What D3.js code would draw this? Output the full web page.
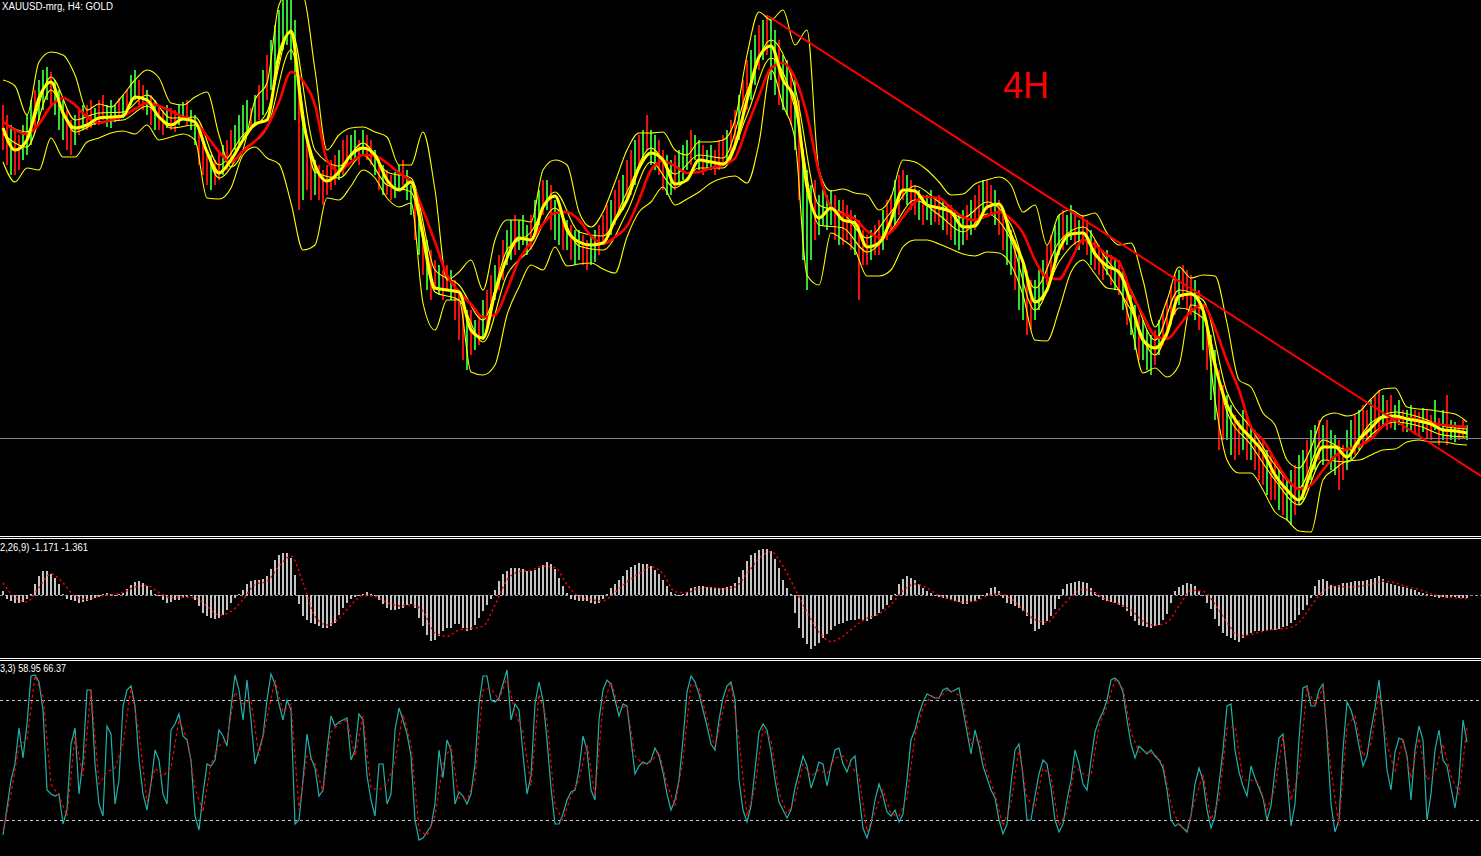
<!DOCTYPE html>
<html><head><meta charset="utf-8">
<script src="https://cdn.jsdelivr.net/npm/d3@7"></script>
<style>html,body{margin:0;padding:0;background:#000;overflow:hidden}svg{display:block}</style>
</head><body><svg id="c" width="1481" height="856"></svg>
<script>
// ---------- DATA (XAUUSD H4) ----------
const barHigh = [
1289.5,1288.5,1287.5,1287.0,1286.5,1287.5,1288.5,1290.0,1291.0,1292.0,1293.0,1293.3,1292.8,1292.0,1291.0,
1290.0,1289.0,1288.0,1288.5,1289.0,1289.5,1289.5,1290.0,1289.2,1290.0,1290.5,1289.5,1290.0,1289.5,1290.2,
1290.5,1291.0,1292.5,1293.0,1292.0,1291.5,1291.0,1290.5,1290.0,1289.5,1289.0,1289.5,1289.2,1289.0,1289.5,
1289.8,1290.0,1289.0,1288.5,1287.0,1286.0,1285.0,1284.5,1284.0,1285.0,1285.5,1286.0,1287.0,1287.5,1288.5,
1289.5,1290.0,1289.2,1290.5,1291.5,1293.0,1294.5,1296.0,1297.5,1299.0,1300.4,1300.6,1300.3,1298.0,1291.0,
1288.0,1286.0,1285.0,1284.0,1283.5,1283.0,1283.5,1284.0,1284.5,1285.0,1286.0,1286.5,1286.5,1287.0,1286.0,
1287.0,1286.5,1286.0,1285.0,1284.0,1283.5,1283.0,1282.5,1282.8,1283.5,1284.0,1283.0,1281.5,1280.5,1279.0,
1277.5,1276.0,1275.0,1274.0,1273.5,1273.0,1273.5,1273.0,1272.0,1271.0,1270.0,1269.0,1269.0,1268.0,1268.5,
1270.0,1271.0,1272.5,1273.5,1274.5,1276.0,1277.0,1278.0,1278.5,1278.0,1278.5,1277.5,1278.5,1280.0,1281.0,
1282.0,1282.0,1281.5,1280.0,1279.0,1278.5,1278.0,1277.5,1277.0,1277.0,1276.5,1276.0,1276.5,1277.0,1277.5,
1278.5,1279.5,1280.0,1281.0,1282.0,1282.5,1284.0,1285.0,1286.0,1286.5,1287.0,1288.5,1287.0,1286.5,1286.0,
1285.0,1284.5,1284.0,1284.5,1285.0,1285.5,1286.0,1287.0,1286.5,1286.0,1285.5,1285.0,1285.5,1285.0,1286.0,
1286.5,1287.0,1288.0,1289.0,1290.5,1292.0,1294.0,1295.0,1296.5,1297.5,1298.0,1298.5,1298.0,1297.0,1296.0,
1294.5,1294.0,1293.0,1292.0,1290.0,1285.0,1283.0,1281.5,1282.0,1280.5,1281.0,1280.5,1281.0,1280.5,1280.0,
1280.0,1279.5,1279.0,1278.5,1278.0,1277.0,1276.5,1277.0,1277.5,1278.0,1279.0,1280.0,1280.5,1282.0,1282.5,
1283.0,1282.5,1282.0,1281.5,1281.0,1280.5,1280.5,1281.0,1280.2,1280.5,1280.0,1279.5,1279.5,1279.0,1278.5,
1279.0,1279.5,1280.0,1280.5,1281.5,1282.0,1282.0,1281.5,1281.0,1280.0,1279.0,1278.0,1277.0,1276.0,1275.0,
1274.0,1273.0,1272.0,1272.0,1273.0,1274.0,1275.5,1276.5,1277.5,1278.5,1279.0,1278.5,1279.5,1278.5,1278.0,
1278.5,1278.0,1277.0,1276.0,1275.5,1275.0,1275.0,1274.5,1274.0,1274.0,1273.0,1272.0,1270.5,1269.5,1268.5,
1268.0,1267.0,1266.5,1267.0,1268.0,1269.0,1270.0,1271.5,1272.5,1273.0,1273.5,1273.0,1272.5,1272.0,1271.0,
1269.5,1268.0,1266.5,1265.0,1263.0,1261.5,1260.5,1259.5,1258.5,1258.0,1259.0,1258.5,1257.5,1257.0,1256.0,
1256.0,1255.0,1254.5,1254.0,1253.0,1252.5,1252.0,1253.0,1253.5,1254.5,1255.0,1256.0,1257.0,1257.5,1258.0,
1257.5,1258.0,1257.0,1256.5,1256.0,1255.5,1257.0,1258.0,1258.5,1259.0,1259.5,1259.0,1260.0,1260.5,1261.0,
1260.5,1260.0,1260.5,1259.5,1260.0,1259.0,1259.0,1259.5,1259.0,1258.8,1259.2,1259.0,1258.5,1260.0,1258.2,
1259.0,1260.5,1258.0,1257.8,1257.5,1258.0,1257.5];
const barLow = [
1285.0,1283.5,1282.5,1282.5,1283.0,1284.0,1284.5,1285.5,1287.0,1288.0,1289.0,1290.0,1289.5,1288.5,1287.0,
1286.0,1285.0,1284.5,1285.5,1286.5,1287.0,1287.0,1287.2,1287.5,1287.5,1288.0,1287.3,1287.2,1287.8,1288.0,
1288.2,1288.5,1289.5,1290.0,1289.5,1289.0,1288.5,1287.5,1287.0,1287.0,1286.5,1287.2,1287.0,1286.8,1287.5,
1288.0,1287.5,1287.0,1285.5,1283.5,1282.5,1281.5,1281.0,1281.5,1282.0,1282.5,1283.0,1284.0,1285.0,1285.5,
1286.0,1286.5,1287.0,1287.5,1288.0,1288.5,1290.0,1291.0,1292.0,1294.0,1295.0,1295.5,1294.0,1288.0,1279.0,
1280.0,1281.0,1280.0,1280.5,1280.0,1279.5,1280.5,1281.0,1281.5,1282.0,1282.5,1283.5,1284.0,1284.0,1283.5,
1284.5,1284.0,1283.5,1282.5,1281.0,1280.5,1280.5,1280.0,1280.2,1281.0,1281.5,1280.0,1278.5,1276.0,1274.5,
1272.5,1271.0,1270.0,1271.0,1270.5,1270.0,1271.0,1270.0,1268.0,1266.0,1264.0,1263.0,1264.5,1265.0,1265.5,
1266.0,1267.0,1268.5,1270.0,1271.0,1272.0,1273.5,1274.0,1274.5,1275.0,1275.5,1274.5,1275.0,1276.5,1277.5,
1278.5,1279.0,1277.0,1276.0,1275.5,1275.0,1275.0,1274.0,1273.5,1274.0,1273.5,1273.0,1273.5,1273.8,1274.5,
1275.5,1276.0,1276.5,1277.5,1278.5,1279.0,1280.0,1280.5,1281.5,1283.0,1284.0,1285.0,1283.5,1283.0,1282.5,
1281.0,1280.5,1280.5,1281.0,1281.5,1282.0,1283.0,1283.5,1284.0,1283.0,1282.5,1283.0,1283.0,1282.5,1283.0,
1283.5,1284.0,1284.5,1285.0,1286.0,1287.5,1289.0,1290.0,1291.5,1293.0,1294.0,1294.5,1292.0,1290.5,1289.5,
1289.0,1288.5,1287.5,1285.0,1280.0,1274.0,1271.0,1274.0,1276.0,1276.5,1277.5,1277.0,1277.5,1276.0,1275.5,
1275.5,1276.0,1275.0,1274.5,1270.0,1273.5,1273.5,1274.0,1274.5,1274.5,1275.0,1276.0,1277.0,1277.5,1278.5,
1280.0,1279.5,1279.0,1278.5,1278.0,1277.5,1278.0,1277.5,1277.8,1277.5,1277.0,1276.5,1276.0,1275.5,1275.0,
1275.5,1276.0,1276.5,1277.0,1278.0,1278.5,1279.0,1278.5,1277.5,1276.5,1275.0,1273.5,1272.5,1271.0,1269.0,
1268.0,1266.5,1267.0,1268.0,1269.0,1270.0,1271.5,1272.5,1273.5,1274.5,1275.0,1275.5,1276.0,1275.5,1275.0,
1275.5,1274.5,1273.5,1273.0,1272.5,1272.0,1272.5,1271.5,1271.0,1270.5,1269.0,1267.5,1266.5,1265.0,1264.0,
1264.0,1263.0,1262.5,1263.5,1264.5,1265.5,1266.0,1267.5,1268.5,1269.5,1270.0,1269.0,1268.5,1268.0,1267.0,
1265.0,1263.0,1260.0,1258.0,1255.0,1256.0,1256.0,1254.5,1254.0,1254.5,1255.0,1254.0,1254.0,1253.0,1252.0,
1251.5,1250.5,1250.0,1250.0,1249.0,1248.5,1248.0,1247.5,1248.5,1249.5,1250.0,1251.0,1252.0,1253.0,1254.0,
1253.5,1254.0,1253.0,1252.5,1251.0,1252.0,1253.0,1254.0,1254.5,1255.0,1255.5,1256.0,1256.0,1256.5,1257.0,
1257.5,1257.0,1257.2,1257.0,1257.5,1256.8,1256.8,1257.0,1256.5,1256.5,1256.8,1256.2,1256.0,1257.0,1255.5,
1256.0,1255.5,1256.0,1255.8,1256.0,1256.2,1256.0];
// u = up bar (green), d = down bar (red)
const barDir = ["ddudduuudu","uuduuuddud","uddudduuud","uduuddudud","dudduuduud","dduddudduu","uudududuuu",
"uuuududdud","ddddudduud","uddududduu","duudududdu","ddudddudud","uddudduudu","uuduududuu","duduudduud",
"ddudduddud","uduudduudu","uuduuduudd","duddudduud","uduuduudud","uuuduuuudu","dddudddudd","uddudduddu",
"duuddudduu","ududduddud","duuduudduu","udduuduudu","ddudddudud","uduuduuudu","ddddudddud","uduudduudd",
"ududdduddu","duuduuduud","uduudduudu","dduddudduu","duudduddud","uduudduddu"].join("");

// moving averages and bands: one value every 3 bars
const fastMA = [1287.2,1285.0,1286.0,1290.2,1291.8,1288.7,1287.2,1287.5,1288.2,1288.3,
1288.4,1290.3,1290.0,1288.3,1287.5,1288.1,1287.8,1284.8,1282.7,1284.0,
1286.0,1287.6,1288.0,1294.5,1296.8,1288.0,1283.5,1281.9,1282.8,1284.5,
1285.2,1284.5,1282.0,1281.0,1281.8,1276.5,1271.2,1271.0,1270.8,1267.0,
1266.2,1270.7,1274.2,1276.2,1276.0,1279.3,1280.4,1277.0,1275.8,1275.5,
1275.7,1278.0,1280.0,1283.2,1284.7,1284.0,1281.6,1282.0,1284.0,1283.8,
1283.6,1285.5,1290.0,1294.3,1295.4,1292.0,1290.0,1281.3,1278.2,1279.2,
1278.0,1277.7,1275.3,1275.7,1278.0,1281.0,1280.9,1279.5,1279.2,1278.8,
1277.3,1277.4,1279.3,1279.6,1276.5,1273.8,1269.8,1271.0,1275.0,1276.6,
1276.7,1274.6,1273.4,1272.8,1269.7,1266.0,1265.2,1266.7,1270.4,1270.6,
1269.0,1263.5,1259.5,1257.5,1256.2,1254.8,1252.5,1251.0,1250.0,1252.8,
1255.3,1255.3,1254.3,1256.0,1257.2,1258.3,1258.4,1258.1,1257.9,1257.6,
1257.0,1256.9,1256.7];
const slowMA = [1287.8,1287.0,1286.6,1287.6,1289.4,1290.2,1289.5,1288.3,1287.7,1288.0,
1288.4,1289.1,1289.7,1289.4,1288.9,1288.3,1287.8,1286.4,1284.8,1283.8,
1284.9,1285.9,1287.3,1289.8,1292.8,1291.9,1289.5,1284.0,1282.9,1283.8,
1284.5,1284.4,1283.7,1282.7,1281.8,1279.0,1275.8,1272.5,1270.8,1269.6,
1268.3,1268.5,1271.0,1274.0,1275.8,1277.6,1278.7,1278.8,1278.0,1276.4,
1275.6,1276.3,1277.4,1280.0,1283.0,1283.9,1283.4,1282.7,1282.8,1283.2,
1283.5,1284.2,1287.3,1290.4,1293.2,1293.7,1292.2,1288.5,1282.8,1279.3,
1278.6,1278.1,1276.9,1276.3,1276.8,1278.3,1279.8,1280.3,1280.2,1279.2,
1278.3,1278.0,1278.4,1278.8,1278.1,1276.7,1274.0,1272.2,1272.1,1274.0,
1276.0,1275.5,1274.5,1273.8,1270.8,1268.5,1266.4,1266.1,1267.4,1268.9,
1269.5,1267.2,1263.9,1261.0,1257.3,1256.0,1254.0,1252.1,1251.1,1251.5,
1253.0,1254.4,1255.1,1255.4,1256.1,1257.4,1258.1,1258.2,1258.0,1257.7,
1257.5,1257.4,1257.3];
const upperBand = [1292.0,1291.4,1288.5,1293.8,1294.8,1294.5,1292.5,1289.0,1289.6,1289.3,
1290.5,1292.0,1293.0,1292.2,1289.7,1289.5,1290.3,1290.8,1286.5,1283.3,
1285.0,1290.0,1291.7,1299.5,1301.0,1300.5,1293.0,1285.0,1286.5,1287.2,
1287.3,1286.8,1286.3,1283.5,1283.5,1286.8,1281.0,1272.0,1272.8,1274.0,
1271.0,1276.0,1278.0,1278.0,1277.8,1283.0,1284.0,1283.5,1278.8,1277.3,
1278.8,1281.8,1285.0,1286.7,1286.7,1286.8,1285.0,1284.5,1285.8,1285.8,
1286.0,1288.0,1294.5,1298.8,1298.0,1299.0,1295.5,1297.0,1283.0,1280.9,
1281.1,1280.7,1280.5,1279.0,1280.3,1284.0,1283.8,1283.0,1281.8,1280.5,
1280.6,1281.6,1282.0,1282.3,1281.5,1278.8,1279.5,1275.5,1278.5,1279.0,
1278.4,1278.7,1276.7,1275.5,1275.7,1272.0,1267.3,1270.0,1273.3,1272.2,
1272.5,1272.4,1267.7,1262.0,1261.3,1258.7,1257.5,1254.0,1253.2,1255.2,
1258.3,1258.7,1258.4,1258.8,1260.1,1261.1,1261.2,1259.3,1259.1,1259.0,
1258.8,1258.6,1257.8];
const lowerBand = [1283.8,1281.8,1283.2,1283.0,1286.2,1284.3,1284.3,1285.8,1286.2,1286.7,
1286.9,1286.6,1287.5,1286.0,1286.3,1286.6,1286.0,1280.2,1280.1,1281.2,
1284.5,1285.3,1284.2,1283.6,1279.7,1275.0,1275.5,1280.2,1280.0,1281.4,
1283.0,1282.2,1280.2,1279.3,1279.7,1269.7,1267.0,1270.0,1270.0,1262.8,
1262.5,1263.5,1268.5,1271.3,1273.5,1273.0,1275.3,1273.4,1273.6,1273.7,
1273.1,1272.7,1276.3,1278.8,1279.8,1281.3,1279.5,1280.1,1280.8,1281.7,
1282.2,1282.4,1281.7,1285.7,1293.0,1289.5,1286.0,1272.5,1271.5,1276.7,
1276.0,1275.0,1272.4,1272.4,1273.0,1275.3,1276.0,1276.0,1275.6,1275.1,
1274.6,1274.4,1274.8,1274.7,1273.5,1270.5,1266.0,1265.9,1269.0,1272.8,
1274.0,1272.6,1271.2,1271.0,1267.5,1262.7,1263.2,1262.3,1263.5,1269.5,
1269.0,1260.0,1254.0,1252.7,1252.7,1251.0,1248.8,1248.0,1246.9,1246.8,
1252.0,1253.1,1253.9,1254.0,1254.5,1255.0,1255.1,1255.8,1256.0,1255.8,
1255.8,1255.6,1255.5];
// high / low channel of the fast average: one value every 6 bars
const channelHigh = [1287.8,1286.8,1292.3,1288.0,1288.7,1288.8,1290.5,1288.2,1288.3,1283.5,
1286.5,1288.8,1297.0,1285.0,1283.4,1285.7,1282.8,1282.2,1273.0,1271.5,
1268.0,1275.0,1276.8,1280.8,1276.8,1276.4,1280.8,1285.2,1282.6,1284.5,
1284.2,1290.8,1296.0,1291.2,1279.5,1278.7,1276.2,1278.8,1281.4,1279.8,
1278.2,1279.8,1277.5,1271.2,1275.8,1277.3,1274.0,1271.0,1266.0,1271.0,
1270.0,1260.8,1257.2,1253.5,1251.2,1256.0,1255.0,1257.7,1258.8,1258.3,
1257.4,1257.1];
const channelLow = [1286.6,1285.3,1291.0,1286.8,1287.8,1288.0,1289.4,1287.2,1287.5,1282.2,
1285.0,1287.2,1295.0,1282.8,1282.2,1284.5,1281.5,1280.8,1270.8,1270.0,
1265.8,1272.5,1275.2,1279.2,1275.4,1275.0,1278.8,1283.8,1281.2,1283.2,
1283.2,1288.5,1294.2,1289.2,1277.5,1277.2,1274.8,1277.0,1280.0,1278.5,
1276.8,1278.6,1276.0,1269.0,1273.8,1276.0,1272.8,1269.0,1264.5,1269.2,
1268.2,1258.8,1255.5,1252.0,1249.5,1254.0,1253.8,1256.5,1257.8,1257.4,
1256.5,1256.3];
const lastPrice = 1256.2;
const trendLine = [[191.25, 1298.4], [369.5, 1252.4]]; // [bar index, price]

// MACD(12,26,9): histogram per bar, signal every 3 bars
const macdHist = [1.5,-1.5,-2.5,-3.0,-3.0,-2.8,-1.5,0.5,4.5,7.5,
9.5,9.6,8.5,6.8,4.5,0.5,-1.5,-2.0,-2.5,-3.0,
-2.8,-2.2,-1.8,-1.2,-0.8,0.3,1.0,0.6,-0.2,0.4,
1.0,2.5,4.0,5.2,5.6,5.0,3.8,2.0,0.5,-0.5,
-2.0,-3.0,-2.6,-2.0,-1.8,-1.0,-0.8,-0.5,-2.0,-4.5,
-7.0,-8.5,-9.3,-9.5,-9.0,-8.0,-6.0,-3.0,-1.0,0.5,
2.0,4.5,5.5,6.0,6.2,6.5,7.5,10.5,14.0,16.0,
17.0,17.0,15.0,8.0,-3.5,-8.5,-10.0,-11.0,-11.5,-12.5,
-13.0,-13.0,-12.5,-11.0,-8.0,-5.0,-3.0,-1.5,-0.8,-0.3,
0.5,1.1,0.5,-0.5,-2.0,-3.5,-5.0,-5.8,-5.9,-5.5,
-5.0,-4.0,-3.5,-5.0,-9.0,-12.5,-16.0,-18.5,-18.0,-16.5,
-14.5,-13.0,-13.0,-11.5,-11.5,-13.0,-14.5,-14.0,-12.0,-9.0,
-6.5,-4.0,-1.5,2.0,5.5,8.3,9.8,10.7,10.8,10.7,
10.5,9.7,9.5,10.0,10.8,12.0,13.2,12.5,10.5,7.0,
3.5,0.8,-1.5,-2.0,-2.5,-2.2,-2.5,-3.0,-3.7,-3.2,
-1.5,0.5,3.0,4.5,6.0,7.5,10.0,11.2,12.0,12.7,
12.5,12.3,11.5,10.0,8.5,6.0,3.5,1.2,0.3,-0.3,
0.3,1.2,3.0,3.3,3.5,3.6,3.4,3.2,3.0,2.9,
3.0,3.3,3.5,5.0,7.2,10.0,13.5,16.0,17.0,18.0,
18.5,18.5,17.6,14.5,11.0,6.0,3.0,0.5,-7.0,-13.0,
-17.0,-19.5,-21.5,-20.5,-19.0,-17.0,-15.5,-14.0,-12.5,-11.5,
-11.0,-10.3,-10.0,-9.8,-9.7,-10.0,-10.3,-9.5,-8.5,-7.0,
-5.5,-4.0,-2.0,0.5,4.5,6.5,7.5,7.0,6.1,4.5,
2.9,1.8,0.8,-0.3,-0.8,-1.2,-1.5,-1.8,-2.2,-2.6,
-3.5,-3.4,-2.8,-2.4,-1.5,-0.5,1.0,2.8,3.2,1.5,
-1.0,-3.0,-3.5,-4.2,-5.2,-6.5,-8.3,-11.5,-14.3,-13.5,
-12.0,-10.3,-8.5,-5.5,-1.5,2.5,4.5,5.0,5.3,5.5,
5.2,4.8,3.0,1.2,-0.8,-1.9,-2.4,-2.9,-3.3,-3.9,
-4.6,-6.5,-8.5,-10.3,-11.8,-12.5,-12.8,-13.0,-12.5,-12.0,
-10.0,-7.5,-3.1,1.5,3.2,4.2,4.7,4.5,3.7,1.8,
0.2,-3.0,-5.7,-9.5,-12.5,-15.0,-16.3,-17.3,-18.0,-18.7,
-17.2,-16.0,-15.0,-14.3,-14.2,-14.3,-14.3,-14.0,-13.8,-13.5,
-12.8,-12.2,-11.0,-10.0,-8.0,-6.0,-4.0,-1.0,3.5,6.1,
6.4,5.5,4.2,3.5,4.0,4.8,5.0,5.2,5.5,5.6,
5.8,6.0,6.3,7.0,7.7,6.5,5.0,4.5,4.0,3.6,
3.2,2.8,2.4,2.0,1.4,0.8,0.3,-0.5,-0.8,-1.0,
-0.8,-1.0,-1.2,-0.9,-1.1,-1.0,-1.171];
const macdSignal = [4.8,-1.0,-2.7,3.0,8.5,4.8,-0.5,-1.8,-0.6,0.2,
1.0,3.2,3.8,1.0,-1.0,-0.9,-1.1,-4.5,-8.0,-6.5,
-1.9,4.2,5.5,11.5,15.5,5.0,-8.5,-12.0,-9.3,-4.0,
-0.2,-0.6,-3.0,-4.3,-4.0,-6.5,-15.2,-16.5,-14.0,-13.3,
-12.5,-4.0,6.0,9.3,9.9,11.5,11.0,4.2,-0.6,-1.9,
-2.3,1.2,5.2,8.5,11.3,8.5,1.3,1.0,2.7,3.1,
2.4,3.2,8.5,14.5,17.3,11.5,2.5,-6.8,-14.9,-18.6,
-16.5,-12.5,-9.3,-7.6,-3.8,1.7,4.4,2.8,-0.2,-1.8,
-2.8,-2.5,-0.3,0.6,-1.5,-5.8,-9.8,-11.0,-5.8,-0.8,
2.3,0.8,-2.0,-3.7,-6.0,-10.5,-12.1,-11.0,-4.4,1.8,
1.5,-3.7,-11.0,-16.3,-15.8,-14.5,-13.7,-13.3,-11.0,-4.5,
1.5,3.5,3.2,3.5,4.2,5.5,4.8,3.3,2.2,0.5,
-0.6,-1.1,-1.361];

// Stochastic(5,3,3): %K per bar, %D every 2 bars
const stochK = [12.5,26,40,48,66,51,68,92,92.5,89,
75,35,33,32,33,18,25,58,66,33,
50,85,85,48,28,22,67,63,28,40,
77,85,87,77,50,33,25,38,55,50,
33,28,65,68,73,62,60,50,22,15,
33,48,47,50,65,62,57,76,92.5,85,
70,90,70,48,55,62,80,93,88,78,
70,80,75,18,20,40,63,51,46,32,
35,55,72,67,69,70,71,50,55,73,
70,42,30,22,48,48,28,33,65,76,
70,63,52,20,10,11,14,17,28,55,
41,60,55,28,34,32,28,33,48,78,
92,92,80,79,81,88,95,70,78,75,
53,33,42,78,89,80,60,36,18,18,
23,30,34,35,45,62,55,35,30,70,
85,90,88,80,72,78,77,60,43,47,
49,48,50,56,52,44,33,25,30,40,
60,84,92,89,83,75,67,58,55,70,
81,87,89,80,40,25,19,27,45,64,
68,65,54,40,29,25,21,25,36,44,
52,47,36,42,49,48,37,47,55,56,
48,44,50,52,33,16,11,18,30,38,
32,24,22,25,19,23,40,60,65,73,
79,83,82,81,81,85,86,84,85,86,
75,64,53,65,57,47,41,35,31,20,
13,18,38,55,58,42,20,20,32,43,
50,48,36,20,14,18,30,40,55,48,
38,35,50,64,70,74,80,90,91,89,
84,70,58,51,57,55,53,55,52,50,
46,35,20,17,18,16,14,22,38,46,
40,25,16,22,38,55,77,78,55,44,
37,32,47,41,36,31,20,27,45,61,
63,42,17,28,60,86,87,77,77,85,
88,62,28,14,20,55,79,75,68,57,
47,52,65,76,90,70,45,35,54,61,
60,52,30,55,67,60,20,33,55,65,
50,47,36,26,40,70,58.95];
const stochD = [15,33,57,60,92,82,38,32,22,62,
42,85,38,44,46,58,86,64,29,46,
42,46,70,61,36,24,48,57,60,84,
78,80,52,71,90,74,78,25,52,48,
34,64,68,70,52,72,36,35,38,49,
73,58,15,12,22,48,57,31,30,40,
85,86,80,91,74,64,37,83,70,27,
20,32,40,58,32,77,89,76,77,52,
48,49,54,38,27,50,88,86,71,56,
75,88,60,22,36,66,60,34,23,30,
48,42,45,43,51,52,47,42,14,24,
35,23,22,31,62,76,82,81,85,84,
80,58,61,44,33,17,28,56,31,26,
46,42,17,24,47,43,42,67,77,90,
86,64,54,54,53,48,28,17,15,30,
43,20,30,66,67,40,40,38,25,36,
62,30,44,86,77,86,45,17,67,72,
52,58,83,58,44,60,41,61,40,44,
58,42,33,66.37];
const stochLevels = [80, 20];

const titleMain = "XAUUSD-mrg, H4:  GOLD";
const titleMacd = "2,26,9) -1.171 -1.361";
const titleStoch = "3,3) 58.95 66.37";
const annotation = "4H";

// ---------- DRAWING ----------
const W = 1481, H = 856;
const svg = d3.select("#c");
svg.append("rect").attr("width", W).attr("height", H).attr("fill", "#000");
const nBars = barHigh.length;
const x = d3.scaleLinear().domain([0, nBars - 1]).range([3, 1467]);
const yP = d3.scaleLinear().domain([1246.5, 1300]).range([535, 0]);
const yM = d3.scaleLinear().domain([-24.4, 22]).range([656, 540]);
const yS = d3.scaleLinear().domain([0, 100]).range([860, 660]);

const defs = svg.append("defs");
[["clipMain", 0, 0, W, 536], ["clipMacd", 0, 539, W, 119], ["clipStoch", 0, 661, W, 195]].forEach(c => {
  defs.append("clipPath").attr("id", c[0]).append("rect")
    .attr("x", c[1]).attr("y", c[2]).attr("width", c[3]).attr("height", c[4]);
});

const series = (arr, step, ys, curve) => d3.line()
  .x((d, i) => x(i * step)).y(d => ys(d)).curve(curve || d3.curveMonotoneX)(arr);

// main panel
const gMain = svg.append("g").attr("clip-path", "url(#clipMain)");
gMain.append("g").selectAll("rect").data(d3.range(nBars)).join("rect")
  .attr("x", i => Math.round(x(i)) - 1).attr("width", 2)
  .attr("y", i => yP(Math.max(barHigh[i], barLow[i])))
  .attr("height", i => Math.max(1, Math.abs(yP(barLow[i]) - yP(barHigh[i]))))
  .attr("fill", i => (barDir[i] || "u") === "u" ? "#32dc32" : "#ee1111")
  .attr("shape-rendering", "crispEdges");

gMain.append("line").attr("x1", 0).attr("x2", W)
  .attr("y1", Math.round(yP(lastPrice)) + 0.5).attr("y2", Math.round(yP(lastPrice)) + 0.5)
  .attr("stroke", "#778899").attr("stroke-width", 1);

[[upperBand, 3], [lowerBand, 3], [channelHigh, 6], [channelLow, 6]].forEach(s => {
  gMain.append("path").attr("d", series(s[0], s[1], yP))
    .attr("fill", "none").attr("stroke", "#ffff00").attr("stroke-width", 1.1);
});
gMain.append("path").attr("d", series(slowMA, 3, yP))
  .attr("fill", "none").attr("stroke", "#ff0000").attr("stroke-width", 2.6);
gMain.append("path").attr("d", series(fastMA, 3, yP))
  .attr("fill", "none").attr("stroke", "#ffff00").attr("stroke-width", 3);

gMain.append("line")
  .attr("x1", x(trendLine[0][0])).attr("y1", yP(trendLine[0][1]))
  .attr("x2", x(trendLine[1][0])).attr("y2", yP(trendLine[1][1]))
  .attr("stroke", "#ff0000").attr("stroke-width", 2);

svg.append("text").attr("x", 1003).attr("y", 98).text(annotation)
  .attr("fill", "#ff0000").attr("font-family", "Liberation Sans, Arial, sans-serif").attr("font-size", 36);

// separators
[536.5, 538.5, 658.5, 660.5].forEach(yy => {
  svg.append("line").attr("x1", 0).attr("x2", W).attr("y1", yy).attr("y2", yy)
    .attr("stroke", "#ffffff").attr("stroke-width", 1);
});

// MACD panel
const gMacd = svg.append("g").attr("clip-path", "url(#clipMacd)");
gMacd.append("line").attr("x1", 0).attr("x2", W).attr("y1", Math.round(yM(0)) + 0.5).attr("y2", Math.round(yM(0)) + 0.5)
  .attr("stroke", "#8494a8").attr("stroke-dasharray", "3,2");
gMacd.append("g").selectAll("rect").data(macdHist).join("rect")
  .attr("x", (d, i) => Math.round(x(i)) - 1).attr("width", 2)
  .attr("y", d => Math.min(yM(d), yM(0)))
  .attr("height", d => Math.max(1, Math.abs(yM(d) - yM(0))))
  .attr("fill", "#c4c4c4").attr("shape-rendering", "crispEdges");
gMacd.append("path").attr("d", series(macdSignal, 3, yM))
  .attr("fill", "none").attr("stroke", "#ff0000").attr("stroke-width", 1.5).attr("stroke-dasharray", "2,3");

// Stochastic panel
const gSto = svg.append("g").attr("clip-path", "url(#clipStoch)");
stochLevels.forEach(l => {
  gSto.append("line").attr("x1", 0).attr("x2", W).attr("y1", Math.round(yS(l)) + 0.5).attr("y2", Math.round(yS(l)) + 0.5)
    .attr("stroke", "#c8c8c8").attr("stroke-dasharray", "3,3");
});
gSto.append("path").attr("d", series(stochK, 1, yS, d3.curveLinear))
  .attr("fill", "none").attr("stroke", "#20b2aa").attr("stroke-width", 1.2);
gSto.append("path").attr("d", series(stochD, 2, yS, d3.curveLinear))
  .attr("fill", "none").attr("stroke", "#ff0000").attr("stroke-width", 1.2).attr("stroke-dasharray", "3,3");

// labels
const lbl = (t, xx, yy, w) => svg.append("text").attr("x", xx).attr("y", yy).text(t)
  .attr("fill", "#ffffff").attr("font-family", "Liberation Sans, Arial, sans-serif").attr("font-size", 10)
  .attr("textLength", w).attr("lengthAdjust", "spacingAndGlyphs");
lbl(titleMain, 2, 10, 111);
lbl(titleMacd, 0, 551, 88);
lbl(titleStoch, 0, 672, 66);
</script>
</body></html>
